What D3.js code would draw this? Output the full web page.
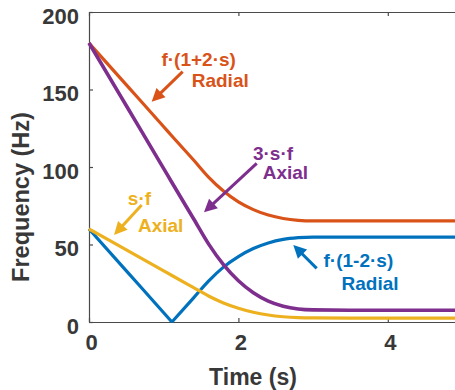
<!DOCTYPE html>
<html>
<head>
<meta charset="utf-8">
<script src="https://cdn.jsdelivr.net/npm/d3@7"></script>
<style>
  body { margin: 0; background: #fff; }
  svg { display: block; font-family: "Liberation Sans", Arial, sans-serif; font-weight: bold; }
</style>
</head>
<body>
<svg id="chart" width="455" height="390"></svg>
<script>
// values
var times       = [0, 0.5, 1.0, 1.11, 1.4, 1.6, 1.8, 2.0, 2.2, 2.4, 2.6, 2.8, 3.0, 3.5, 4.0, 5.0];
var radialPlus  = [180, 153, 126, 120, 104.5, 93.5, 84.5, 77.5, 72.5, 69, 66.8, 65.6, 65.2, 65.2, 65.2, 65.2];
var axial3sf    = [180, 139.5, 99, 90, 66.6, 50.4, 37, 26.6, 18.9, 13.5, 10.2, 8.4, 7.8, 7.6, 7.6, 7.6];
var axialSf     = [60, 46.5, 33, 30, 22.2, 16.8, 12.3, 8.9, 6.3, 4.5, 3.4, 2.8, 2.6, 2.5, 2.5, 2.5];
var radialMinus = [60, 33, 6, 0, 15.6, 26.4, 35.4, 42.2, 47.4, 51, 53.3, 54.4, 54.8, 54.8, 54.8, 54.8];
var xTicks = [0, 2, 4];
var yTicks = [0, 50, 100, 150, 200];

var colors = {orange: '#D95319', purple: '#7E2F8E', yellow: '#EDB120', blue: '#0072BD'};
var axisColor = '#4a4a4a', textColor = '#383838';

var margin = {left: 89, top: 12},
    plotH = 310,
    pxPerSec = 74.7;

var svg = d3.select('#chart');

var x = d3.scaleLinear().domain([0, 5]).range([margin.left, margin.left + 5 * pxPerSec]);
var y = d3.scaleLinear().domain([0, 200]).range([margin.top + plotH, margin.top]);

// axes, MATLAB style: ticks pointing in, box on
var gx = svg.append('g')
    .attr('transform', 'translate(0,' + y(0) + ')')
    .call(d3.axisBottom(x).tickValues(xTicks).tickFormat(d3.format('d'))
      .tickSizeInner(-4).tickSizeOuter(0).tickPadding(12));
var gxTop = svg.append('g')
    .attr('transform', 'translate(0,' + y(200) + ')')
    .call(d3.axisTop(x).tickValues(xTicks).tickSizeInner(-4).tickSizeOuter(0).tickFormat(''));
var gy = svg.append('g')
    .attr('transform', 'translate(' + x(0) + ',0)')
    .call(d3.axisLeft(y).tickValues(yTicks).tickFormat(d3.format('d'))
      .tickSizeInner(-4).tickSizeOuter(0).tickPadding(10));

[gx, gxTop, gy].forEach(function (g) {
  g.select('.domain').attr('stroke', axisColor).attr('stroke-width', 1.2);
  g.selectAll('.tick line').attr('stroke', axisColor).attr('stroke-width', 1.2);
  g.selectAll('.tick text')
      .attr('fill', textColor)
      .attr('font-family', '"Liberation Sans", Arial, sans-serif')
      .attr('font-weight', 'bold')
      .attr('font-size', 22);
});
gy.selectAll('.tick text').attr('dy', '0.5em');
gx.selectAll('.tick text').attr('dx', 2);

svg.append('text')
    .attr('x', 253).attr('y', 385)
    .attr('text-anchor', 'middle')
    .attr('fill', textColor).attr('font-size', 23)
    .text('Time (s)');

svg.append('text')
    .attr('transform', 'translate(29,197) rotate(-90)')
    .attr('text-anchor', 'middle')
    .attr('fill', textColor).attr('font-size', 23.5)
    .text('Frequency (Hz)');

// lines
var line = d3.line()
    .x(function (d) { return x(d[0]); })
    .y(function (d) { return y(d[1]); })
    .curve(d3.curveMonotoneX);

function pairs(vals, from, to) {
  return times.map(function (t, i) { return [t, vals[i]]; }).slice(from, to);
}

var series = [
  {pts: pairs(radialMinus, 0, 4), color: colors.blue, w: 3.2},
  {pts: pairs(radialMinus, 3), color: colors.blue, w: 3.2},
  {pts: pairs(radialPlus), color: colors.orange, w: 3.2},
  {pts: pairs(axialSf), color: colors.yellow, w: 3.2},
  {pts: pairs(axial3sf), color: colors.purple, w: 3.6}
];

svg.append('g').selectAll('path')
    .data(series)
  .enter().append('path')
    .attr('d', function (d) { return line(d.pts); })
    .attr('fill', 'none')
    .attr('stroke', function (d) { return d.color; })
    .attr('stroke-width', function (d) { return d.w; })
    .attr('stroke-linejoin', 'round');

// annotations: [tail, tip] in data units, labels in data units
var notes = [
  {color: colors.orange, tail: [1.254, 161.5], tip: [0.839, 142.1],
   labels: [{t: 'f·(1+2·s)', at: [0.97, 165.2]}, {t: 'Radial', at: [1.375, 151.5]}]},
  {color: colors.purple, tail: [2.245, 102.4], tip: [1.539, 70.8],
   labels: [{t: '3·s·f', at: [2.195, 104.5]}, {t: 'Axial', at: [2.325, 92]}]},
  {color: colors.yellow, tail: [0.705, 75.5], tip: [0.335, 56.1],
   labels: [{t: 's·f', at: [0.52, 75.5]}, {t: 'Axial', at: [0.655, 58]}]},
  {color: colors.blue, tail: [3.048, 34.6], tip: [2.735, 49.7],
   labels: [{t: 'f·(1-2·s)', at: [3.14, 35.5]}, {t: 'Radial', at: [3.38, 20.6]}]}
];

var ann = svg.append('g');
notes.forEach(function (n) {
  var x1 = x(n.tail[0]), y1 = y(n.tail[1]), x2 = x(n.tip[0]), y2 = y(n.tip[1]);
  var dx = x2 - x1, dy = y2 - y1, len = Math.sqrt(dx * dx + dy * dy);
  var ux = dx / len, uy = dy / len, head = 13, half = 6.5;
  var bx = x2 - ux * head, by = y2 - uy * head;
  ann.append('line')
      .attr('x1', x1).attr('y1', y1).attr('x2', bx + ux).attr('y2', by + uy)
      .attr('stroke', n.color).attr('stroke-width', 3);
  ann.append('polygon')
      .attr('points', [[x2, y2], [bx - uy * half, by + ux * half], [bx + uy * half, by - ux * half]].join(' '))
      .attr('fill', n.color);
  n.labels.forEach(function (l) {
    ann.append('text')
        .attr('x', x(l.at[0])).attr('y', y(l.at[1]))
        .attr('fill', n.color).attr('font-size', 19)
        .text(l.t);
  });
});
</script>
</body>
</html>
